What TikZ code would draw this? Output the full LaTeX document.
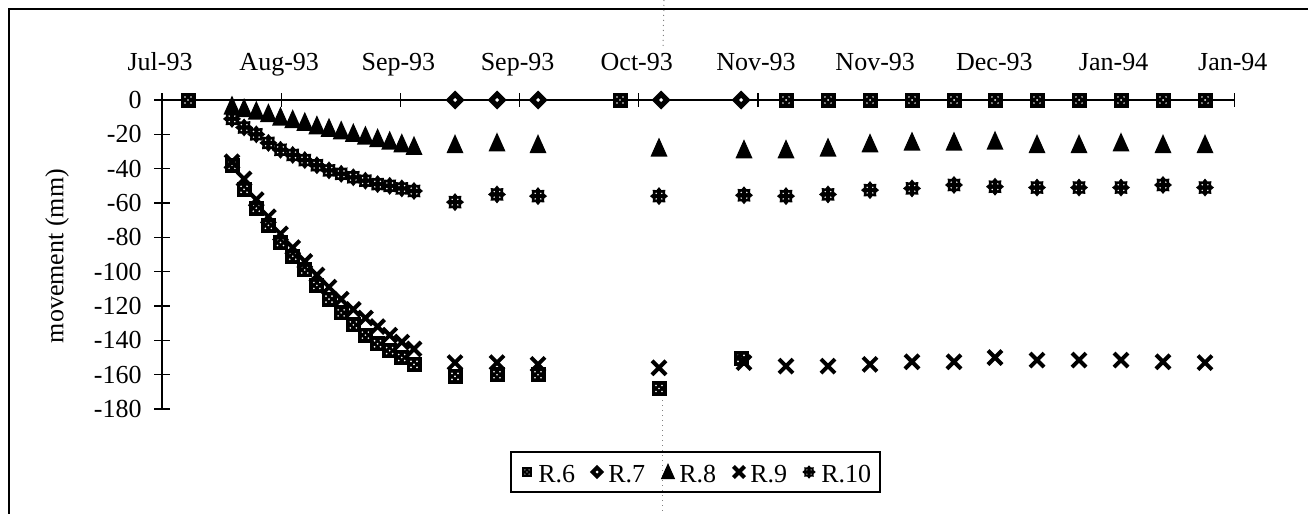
\documentclass[tikz,border=0pt]{standalone}
\usepackage{fontspec}
\setmainfont{Liberation Serif}
\begin{document}
\begin{tikzpicture}[x=0.5pt,y=-0.5pt,
  axis/.style={line width=0.6pt},
  lbl/.style={font=\fontsize{13pt}{15pt}\selectfont, inner sep=0pt},
  sqr/.pic={\fill (-7.5,-7.5) rectangle (7.5,7.5);
            \fill[white] (-3,-3) circle (0.9) (3,-3) circle (0.9) (-3,3) circle (0.9) (3,3) circle (0.9) (0,0) circle (0.9);},
  dia/.pic={\fill (0,-9.5) -- (9.5,0) -- (0,9.5) -- (-9.5,0) -- cycle;
            \fill[white] (0,-2) -- (2,0) -- (0,2) -- (-2,0) -- cycle;},
  tri/.pic={\fill (0,-10.5) -- (8.5,8.5) -- (-8.5,8.5) -- cycle;},
  crs/.pic={\draw[line width=2pt] (-7,-7) -- (7,7) (-7,7) -- (7,-7);},
  ast/.pic={\fill (9,0) -- (6.01,2.49) -- (6.36,6.36) -- (2.49,6.01) -- (0,9) -- (-2.49,6.01) -- (-6.36,6.36) -- (-6.01,2.49) -- (-9,0) -- (-6.01,-2.49) -- (-6.36,-6.36) -- (-2.49,-6.01) -- (0,-9) -- (2.49,-6.01) -- (6.36,-6.36) -- (6.01,-2.49) -- cycle;
            \fill[white] (-2.8,-2.8) circle (0.8) (2.8,-2.8) circle (0.8) (-2.8,2.8) circle (0.8) (2.8,2.8) circle (0.8);}
]
\useasboundingbox (0,0) rectangle (1308,514);
\fill[white] (0,0) rectangle (1308,514);

% outer frame (top and left)
\draw[line width=1.3pt] (9,514) -- (9,9) -- (1308,9);
% scan fold line
\draw[gray, dotted, line width=0.5pt] (664,0) -- (663,48);
\draw[gray, dotted, line width=0.5pt] (662,395) -- (662,514);

% axes
\coordinate (o) at (162,100);
\coordinate (xe) at (1235,100);
\coordinate (yb) at (162,409);
\draw[axis] (o) -- (xe);
\draw[axis] (o) -- (yb);
\foreach \k in {0,...,9} \draw[axis] ({162+119.2*\k},93) -- ++(0,14);
\foreach \v in {0,-20,...,-180} \draw[axis] (154,{100-1.7167*(\v)}) -- ++(16,0);

% axis labels
\foreach \t [count=\k from 0] in {Jul-93,Aug-93,Sep-93,Sep-93,Oct-93,Nov-93,Nov-93,Dec-93,Jan-94,Jan-94}
  \node[lbl, anchor=base] (xl\k) at ({160+119.2*\k},70) {\t};
\foreach \v [count=\k] in {0,-20,-40,-60,-80,-100,-120,-140,-160,-180}
  \node[lbl, anchor=east] (yl\k) at (142,{100-1.7167*(\v)}) {\v};
\node[lbl, rotate=90] (ylab) at (57,256) {movement (mm)};

% R.6
\foreach \x/\v in {188/0,232/-38,244.1/-52,256.3/-63,268.4/-73,280.5/-83,292.7/-91,304.8/-99,316.9/-108,329/-116,341.2/-124,353.3/-131,365.4/-137,377.6/-142,389.7/-146,401.8/-150,414/-154,
  455/-161,497/-160,538/-160,620/0,659/-168,741/-150.5,786/0,828/0,870/0,912/0,954/0,995/0,1037/0,1079/0,1121/0,1163/0,1205/0}
  \pic at (\x,{100-1.7167*(\v)}) {sqr};
% R.7
\foreach \x/\v in {786/0,828/0,870/0,912/0,954/0,995/0,1037/0,1079/0,1121/0,1163/0,1205/0}
  \pic[scale=0.5] at (\x,{100-1.7167*(\v)}) {dia};
\foreach \x/\v in {455/0,497/0,538/0,661/0,741/0}
  \pic at (\x,{100-1.7167*(\v)}) {dia};
% R.8
\foreach \x/\v in {232/-3.5,244.1/-5,256.3/-6.5,268.4/-8,280.5/-10,292.7/-11.5,304.8/-13,316.9/-15,329/-16.5,341.2/-18,353.3/-19.5,365.4/-21,377.6/-22.5,389.7/-24,401.8/-25.5,414/-27,
  455/-26,497/-25,538/-26,659/-28,744/-29,786/-29,828/-28,870/-25.5,912/-24.5,954/-24.5,995/-24,1037/-26,1079/-26,1121/-25,1163/-26,1205/-26}
  \pic at (\x,{100-1.7167*(\v)}) {tri};
% R.9
\foreach \x/\v in {232/-36,244.1/-46,256.3/-58,268.4/-68,280.5/-78,292.7/-86,304.8/-94,316.9/-102,329/-109,341.2/-116,353.3/-122,365.4/-127,377.6/-132,389.7/-137,401.8/-141,414/-145,
  455/-153,497/-153,538/-154,659/-156,744/-153,786/-155,828/-155,870/-154,912/-152.5,954/-152.5,995/-150,1037/-151.5,1079/-151.5,1121/-151.5,1163/-152.5,1205/-153}
  \pic at (\x,{100-1.7167*(\v)}) {crs};
% R.10
\foreach \x/\v in {232/-11,244.1/-16,256.3/-20,268.4/-25,280.5/-29,292.7/-32,304.8/-35,316.9/-38,329/-41,341.2/-43,353.3/-45,365.4/-47,377.6/-49,389.7/-50,401.8/-51.5,414/-53,
  455/-59.5,497/-55,538/-56,659/-56,744/-55.5,786/-56,828/-55,870/-52.5,912/-51.5,954/-49.5,995/-50.5,1037/-51,1079/-51,1121/-51,1163/-49.5,1205/-51}
  \pic at (\x,{100-1.7167*(\v)}) {ast};

% legend
\draw[axis] (511,452) rectangle (880,492);
\pic[scale=0.7] at (527,472) {sqr};
\node[lbl, anchor=base west] (lg6) at (538,482) {R.6};
\pic[scale=0.75] at (597,472) {dia};
\node[lbl, anchor=base west] (lg7) at (608,482) {R.7};
\pic[scale=0.85] at (668,472) {tri};
\node[lbl, anchor=base west] (lg8) at (679,482) {R.8};
\pic[scale=0.8] at (739,472) {crs};
\node[lbl, anchor=base west] (lg9) at (750,482) {R.9};
\pic[scale=0.75] at (809,472) {ast};
\node[lbl, anchor=base west] (lg10) at (821,482) {R.10};
\end{tikzpicture}
\end{document}
